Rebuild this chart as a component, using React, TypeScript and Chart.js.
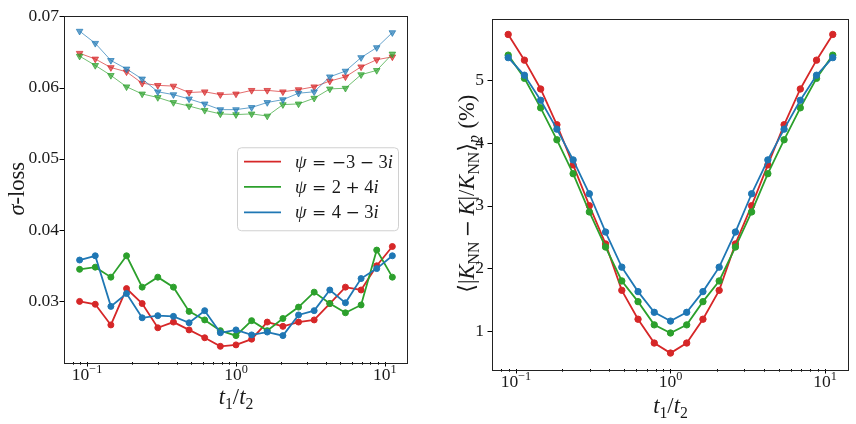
import React, { useEffect, useRef } from 'react';
import { Chart, registerables } from 'chart.js';

Chart.register(...registerables);

// ---------------- data ----------------
const tRatio = [0.0891, 0.1135, 0.1445, 0.1841, 0.2344, 0.2985, 0.3802, 0.4842, 0.6166, 0.7852, 1.0, 1.2735, 1.6218, 2.0654, 2.6303, 3.3497, 4.2658, 5.4325, 6.9183, 8.8105, 11.2202];

const seriesLabels = ['ψ = −3 − 3i', 'ψ = 2 + 4i', 'ψ = 4 − 3i'];
const seriesColors = ['#d62728', '#2ca02c', '#1f77b4'];
const seriesFaded = ['rgba(214,39,40,0.68)', 'rgba(44,160,44,0.68)', 'rgba(31,119,180,0.68)'];

// left panel, sigma-loss: upper curves (triangle markers)
const sigmaUpperA = [0.0648, 0.0640, 0.0628, 0.0622, 0.0606, 0.0603, 0.0602, 0.0593, 0.0594, 0.0590, 0.0591, 0.0596, 0.0596, 0.0594, 0.0597, 0.0601, 0.0609, 0.0615, 0.0629, 0.0639, 0.0643];
const sigmaUpperB = [0.0644, 0.0631, 0.0617, 0.0601, 0.0591, 0.0586, 0.0579, 0.0574, 0.0568, 0.0563, 0.0562, 0.0563, 0.0560, 0.0576, 0.0577, 0.0585, 0.0598, 0.0599, 0.0618, 0.0624, 0.0647];
const sigmaUpperC = [0.0679, 0.0662, 0.0638, 0.0626, 0.0612, 0.0594, 0.0590, 0.0584, 0.0577, 0.0569, 0.0569, 0.0572, 0.0579, 0.0583, 0.0592, 0.0594, 0.0615, 0.0623, 0.0642, 0.0656, 0.0677];
// left panel, sigma-loss: lower curves (circle markers)
const sigmaLowerA = [0.0300, 0.0296, 0.0267, 0.0318, 0.0297, 0.0263, 0.0271, 0.0260, 0.0249, 0.0237, 0.0239, 0.0247, 0.0271, 0.0265, 0.0271, 0.0274, 0.0297, 0.0320, 0.0316, 0.0350, 0.0377];
const sigmaLowerB = [0.0345, 0.0348, 0.0334, 0.0364, 0.0320, 0.0334, 0.0320, 0.0286, 0.0274, 0.0259, 0.0252, 0.0273, 0.0259, 0.0276, 0.0292, 0.0313, 0.0297, 0.0284, 0.0295, 0.0372, 0.0334];
const sigmaLowerC = [0.0358, 0.0364, 0.0293, 0.0311, 0.0277, 0.0280, 0.0279, 0.0270, 0.0287, 0.0256, 0.0260, 0.0253, 0.0257, 0.0252, 0.0281, 0.0287, 0.0316, 0.0298, 0.0332, 0.0346, 0.0364];

// right panel, relative error (%)
const errA = [5.73, 5.32, 4.86, 4.29, 3.65, 3.00, 2.39, 1.65, 1.19, 0.81, 0.65, 0.81, 1.19, 1.65, 2.39, 3.00, 3.65, 4.29, 4.86, 5.32, 5.73];
const errB = [5.40, 5.03, 4.56, 4.05, 3.51, 2.90, 2.34, 1.80, 1.47, 1.10, 0.97, 1.10, 1.47, 1.80, 2.34, 2.90, 3.51, 4.05, 4.56, 5.03, 5.40];
const errC = [5.36, 5.08, 4.68, 4.22, 3.73, 3.19, 2.58, 2.02, 1.63, 1.30, 1.16, 1.30, 1.63, 2.02, 2.58, 3.19, 3.73, 4.22, 4.68, 5.08, 5.36];

// ticks
const xTickValues = [0.1, 1, 10];
const xTickBase = ['10', '10', '10'];
const xTickExp = ['−1', '0', '1'];
const xMinorValues = [0.08, 0.09, 0.2, 0.3, 0.4, 0.5, 0.6, 0.7, 0.8, 0.9, 2, 3, 4, 5, 6, 7, 8, 9];
const sigmaTicks = [0.03, 0.04, 0.05, 0.06, 0.07];
const sigmaTickLabels = ['0.03', '0.04', '0.05', '0.06', '0.07'];
const errTicks = [1, 2, 3, 4, 5];
const errTickLabels = ['1', '2', '3', '4', '5'];

// ---------------- text helpers ----------------
type Seg = { t?: string; it?: boolean; sub?: boolean; sup?: boolean; sp?: number; op?: boolean };
const FAM = '"Liberation Serif", "DejaVu Serif", serif';
const OPFAM = '"DejaVu Serif", "Liberation Serif", serif';
const TEXT = '#1a1a1a';
const TITLE_SIZE = 22.5;

function segFont(s: Seg, size: number) {
  const sz = s.sub || s.sup ? size * 0.7 : size;
  if (s.op) return `${sz * 0.92}px ${OPFAM}`;
  return `${s.it ? 'italic ' : ''}${sz}px ${FAM}`;
}
function richWidth(ctx: CanvasRenderingContext2D, segs: Seg[], size: number) {
  let w = 0;
  for (const s of segs) {
    if (s.sp) { w += s.sp * size; continue; }
    ctx.font = segFont(s, size);
    w += ctx.measureText(s.t || '').width;
  }
  return w;
}
function drawRich(ctx: CanvasRenderingContext2D, segs: Seg[], x: number, y: number, size: number, align: 'left' | 'center') {
  const w = richWidth(ctx, segs, size);
  let cx = align === 'center' ? x - w / 2 : x;
  ctx.textAlign = 'left';
  ctx.textBaseline = 'alphabetic';
  for (const s of segs) {
    if (s.sp) { cx += s.sp * size; continue; }
    ctx.font = segFont(s, size);
    const dy = s.sub ? 0.2 * size : s.sup ? -0.42 * size : 0;
    ctx.fillText(s.t || '', cx, y + dy);
    cx += ctx.measureText(s.t || '').width;
  }
}
function mathSegs(label: string): Seg[] {
  const out: Seg[] = [];
  label.split(' ').forEach((tok) => {
    const gap = tok === '=' ? 0.3 : tok === '+' || tok === '−' ? 0.24 : 0;
    if (gap) out.push({ sp: gap });
    for (const ch of tok) {
      const isOp = /[=+−]/.test(ch);
      out.push({ t: ch, it: /[a-zA-Zψ]/.test(ch), op: isOp });
    }
    if (gap) out.push({ sp: gap });
  });
  return out;
}

const tTitle: Seg[] = [{ t: 't', it: true }, { t: '1', sub: true }, { t: '/' }, { t: 't', it: true }, { t: '2', sub: true }];
const sigmaTitle: Seg[] = [{ t: 'σ', it: true }, { t: '-loss' }];
const errTitle: Seg[] = [
  { t: '⟨|' }, { t: 'K', it: true }, { t: 'NN', sub: true }, { sp: 0.2 }, { t: '−', op: true }, { sp: 0.2 },
  { t: 'K', it: true }, { t: '|/' }, { t: 'K', it: true }, { t: 'NN', sub: true }, { t: '⟩' },
  { t: 'p', it: true, sub: true }, { sp: 0.3 }, { t: '(%)' },
];

type DecorCfg = {
  yTicks: number[];
  xTitle: Seg[];
  yTitle: Seg[];
  xTitleOffset: number;
  yTitleX: number;
  legend: boolean;
};

function decorPlugin(cfg: DecorCfg) {
  return {
    id: 'decor',
    afterDraw(chart: any) {
      const { ctx, chartArea: a, scales } = chart;
      const xs = scales.x;
      const ys = scales.y;
      ctx.save();
      // ticks
      ctx.strokeStyle = '#000';
      ctx.lineWidth = 1;
      ctx.beginPath();
      xTickValues.forEach((v) => {
        const px = Math.round(xs.getPixelForValue(v)) + 0.5;
        ctx.moveTo(px, a.bottom);
        ctx.lineTo(px, a.bottom + 4.5);
      });
      xMinorValues.forEach((v) => {
        if (v < xs.min || v > xs.max) return;
        const px = Math.round(xs.getPixelForValue(v)) + 0.5;
        ctx.moveTo(px, a.bottom);
        ctx.lineTo(px, a.bottom + 2.7);
      });
      cfg.yTicks.forEach((v) => {
        const py = Math.round(ys.getPixelForValue(v)) + 0.5;
        ctx.moveTo(a.left - 4.5, py);
        ctx.lineTo(a.left, py);
      });
      ctx.stroke();
      // frame
      ctx.strokeStyle = '#222';
      ctx.strokeRect(Math.round(a.left) + 0.5, Math.round(a.top) + 0.5, Math.round(a.right - a.left) - 1, Math.round(a.bottom - a.top));
      // x tick labels
      ctx.fillStyle = TEXT;
      xTickValues.forEach((v, i) => {
        const px = xs.getPixelForValue(v);
        drawRich(ctx, [{ t: xTickBase[i] }, { t: xTickExp[i], sup: true }], px, a.bottom + 18, 17.5, 'center');
      });
      // axis titles
      drawRich(ctx, cfg.xTitle, (a.left + a.right) / 2, a.bottom + cfg.xTitleOffset, TITLE_SIZE, 'center');
      ctx.save();
      ctx.translate(cfg.yTitleX, (a.top + a.bottom) / 2);
      ctx.rotate(-Math.PI / 2);
      drawRich(ctx, cfg.yTitle, 0, 0, TITLE_SIZE, 'center');
      ctx.restore();
      // legend
      if (cfg.legend) {
        const w = 161;
        const h = 83;
        const bx = a.right - 10 - w;
        const by = (a.top + a.bottom) / 2 - h / 2;
        ctx.fillStyle = 'rgba(255,255,255,0.85)';
        ctx.strokeStyle = '#d0d0d0';
        ctx.lineWidth = 1;
        ctx.beginPath();
        (ctx as any).roundRect(bx + 0.5, by + 0.5, w, h, 4);
        ctx.fill();
        ctx.stroke();
        seriesLabels.forEach((lab, i) => {
          const ly = by + 14.3 + i * 25.4;
          ctx.strokeStyle = seriesColors[i];
          ctx.lineWidth = 1.8;
          ctx.beginPath();
          ctx.moveTo(bx + 7, ly);
          ctx.lineTo(bx + 44, ly);
          ctx.stroke();
          ctx.fillStyle = TEXT;
          drawRich(ctx, mathSegs(lab), bx + 58, ly + 6, 18.5, 'left');
        });
      }
      ctx.restore();
    },
  };
}

function pts(ys: number[]) {
  return tRatio.map((x, i) => ({ x, y: ys[i] }));
}

function baseScales(yMin: number, yMax: number, yTicks: number[], yLabels: string[], xH: number, yPad: number) {
  return {
    x: {
      type: 'logarithmic' as const,
      min: 0.07,
      max: 14.29,
      grid: { display: false, drawTicks: false },
      border: { display: false },
      ticks: { display: false },
      afterFit: (s: any) => { s.height = xH; },
    },
    y: {
      type: 'linear' as const,
      min: yMin,
      max: yMax,
      grid: { display: false, drawTicks: false },
      border: { display: false },
      afterBuildTicks: (s: any) => { s.ticks = yTicks.map((v) => ({ value: v })); },
      afterFit: (s: any) => { s.width = 64; },
      ticks: {
        autoSkip: false,
        padding: yPad,
        color: TEXT,
        font: { family: FAM, size: 17.5 },
        callback: (_v: any, i: number) => yLabels[i],
      },
    },
  };
}

export default function App() {
  const leftRef = useRef<HTMLCanvasElement>(null);
  const rightRef = useRef<HTMLCanvasElement>(null);

  useEffect(() => {
    const upper = [sigmaUpperA, sigmaUpperB, sigmaUpperC];
    const lower = [sigmaLowerA, sigmaLowerB, sigmaLowerC];
    const err = [errA, errB, errC];

    const leftDatasets: any[] = [];
    upper.forEach((arr, i) => {
      leftDatasets.push({
        label: seriesLabels[i] + ' (upper)',
        data: pts(arr),
        borderColor: seriesFaded[i],
        backgroundColor: seriesFaded[i],
        borderWidth: 1,
        pointStyle: 'triangle',
        pointRotation: 180,
        pointRadius: 3.8,
        pointBorderWidth: 1,
        tension: 0,
        order: 6 - i,
      });
    });
    lower.forEach((arr, i) => {
      leftDatasets.push({
        label: seriesLabels[i],
        data: pts(arr),
        borderColor: seriesColors[i],
        backgroundColor: seriesColors[i],
        borderWidth: 1.8,
        pointStyle: 'circle',
        pointRadius: 3,
        pointBorderWidth: 1,
        tension: 0,
        order: 3 - i,
      });
    });

    const left = new Chart(leftRef.current!, {
      type: 'line',
      data: { datasets: leftDatasets },
      options: {
        animation: false,
        responsive: false,
        maintainAspectRatio: false,
        devicePixelRatio: 1,
        events: [],
        layout: { padding: { left: 0, right: 20, top: 13, bottom: 0 } },
        plugins: { legend: { display: false }, tooltip: { enabled: false } },
        scales: baseScales(0.0215, 0.0701, sigmaTicks, sigmaTickLabels, 62, 5) as any,
      },
      plugins: [decorPlugin({ yTicks: sigmaTicks, xTitle: tTitle, yTitle: sigmaTitle, xTitleOffset: 42, yTitleX: 24, legend: true })],
    });

    const right = new Chart(rightRef.current!, {
      type: 'line',
      data: {
        datasets: err.map((arr, i) => ({
          label: seriesLabels[i],
          data: pts(arr),
          borderColor: seriesColors[i],
          backgroundColor: seriesColors[i],
          borderWidth: 1.8,
          pointStyle: 'circle',
          pointRadius: 3.2,
          pointBorderWidth: 1,
          tension: 0,
          order: 3 - i,
        })),
      },
      options: {
        animation: false,
        responsive: false,
        maintainAspectRatio: false,
        devicePixelRatio: 1,
        events: [],
        layout: { padding: { left: 0, right: 7, top: 15, bottom: 0 } },
        plugins: { legend: { display: false }, tooltip: { enabled: false } },
        scales: baseScales(0.396, 5.984, errTicks, errTickLabels, 55, 8) as any,
      },
      plugins: [decorPlugin({ yTicks: errTicks, xTitle: tTitle, yTitle: errTitle, xTitleOffset: 44, yTitleX: 46, legend: false })],
    });

    return () => {
      left.destroy();
      right.destroy();
    };
  }, []);

  return (
    <div style={{ position: 'fixed', left: 0, top: 0, width: 856, height: 424, background: '#fff' }}>
      <canvas ref={leftRef} width={428} height={424} style={{ position: 'absolute', left: 0, top: 0, width: 428, height: 424 }} />
      <canvas ref={rightRef} width={428} height={424} style={{ position: 'absolute', left: 428, top: 0, width: 428, height: 424 }} />
    </div>
  );
}
